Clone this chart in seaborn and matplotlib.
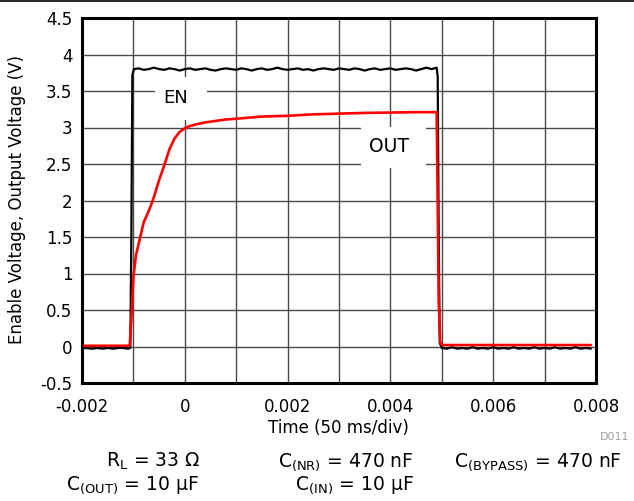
import numpy as np
import pandas as pd
import matplotlib
matplotlib.use("Agg")
import matplotlib.pyplot as plt
from matplotlib.lines import Line2D
from matplotlib.patches import Rectangle
import seaborn as sns

# ---------------- data ----------------
en_time = ([-0.00196, -0.0018, -0.0017, -0.0016, -0.0015, -0.0014, -0.0013, -0.0012, -0.0011, -0.00106,
            -0.00104, -0.00102, -0.00099]
           + [-0.0009, -0.0008, -0.0007, -0.0006, -0.0005, -0.0004, -0.0003, -0.0002, -0.0001, 0.0,
              0.0001, 0.0002, 0.0003, 0.0004, 0.0005, 0.0006, 0.0007, 0.0008, 0.0009, 0.0010,
              0.0011, 0.0012, 0.0013, 0.0014, 0.0015, 0.0016, 0.0017, 0.0018, 0.0019, 0.0020,
              0.0021, 0.0022, 0.0023, 0.0024, 0.0025, 0.0026, 0.0027, 0.0028, 0.0029, 0.0030,
              0.0031, 0.0032, 0.0033, 0.0034, 0.0035, 0.0036, 0.0037, 0.0038, 0.0039, 0.0040,
              0.0041, 0.0042, 0.0043, 0.0044, 0.0045, 0.0046, 0.0047, 0.0048]
           + [0.00490, 0.00492, 0.00494, 0.00496, 0.0050]
           + [0.0051, 0.0052, 0.0053, 0.0054, 0.0055, 0.0056, 0.0057, 0.0058, 0.0059, 0.0060,
              0.0061, 0.0062, 0.0063, 0.0064, 0.0065, 0.0066, 0.0067, 0.0068, 0.0069, 0.0070,
              0.0071, 0.0072, 0.0073, 0.0074, 0.0075, 0.0076, 0.0077, 0.0078, 0.0079])
en_volt = ([-0.02, -0.03, -0.02, -0.03, -0.02, -0.03, -0.02, -0.02, -0.03, -0.02,
            1.50, 3.72, 3.80]
           + [3.81, 3.79, 3.80, 3.82, 3.80, 3.79, 3.81, 3.80, 3.78, 3.80,
              3.81, 3.79, 3.80, 3.81, 3.79, 3.78, 3.80, 3.81, 3.80, 3.79,
              3.81, 3.80, 3.78, 3.80, 3.81, 3.79, 3.80, 3.82, 3.80, 3.79,
              3.80, 3.81, 3.79, 3.80, 3.78, 3.80, 3.81, 3.80, 3.79, 3.81,
              3.80, 3.79, 3.81, 3.80, 3.78, 3.80, 3.81, 3.79, 3.80, 3.81,
              3.79, 3.80, 3.81, 3.80, 3.78, 3.80, 3.82, 3.80]
           + [3.82, 3.70, 1.50, 0.05, -0.02]
           + [-0.03, -0.01, -0.03, -0.02, -0.03, -0.01, -0.03, -0.02, -0.03, -0.01,
              -0.03, -0.02, -0.03, -0.01, -0.03, -0.02, -0.03, -0.01, -0.03, -0.02,
              -0.03, -0.01, -0.03, -0.02, -0.03, -0.01, -0.03, -0.02, -0.03])

out_time = [-0.00196, -0.0015, -0.0011, -0.00107, -0.00103, -0.00100, -0.00095, -0.00090, -0.00085,
            -0.00080, -0.00075, -0.00070, -0.00065, -0.0006, -0.0005, -0.0004, -0.0003, -0.0002,
            -0.0001, 0.0, 0.0001, 0.0002, 0.0004, 0.0006, 0.0008, 0.0010, 0.0015, 0.0020, 0.0025,
            0.0030, 0.0035, 0.0040, 0.0045, 0.00490, 0.00492, 0.00494, 0.00497, 0.0050, 0.0060,
            0.0070, 0.0079]
out_volt = [0.01, 0.01, 0.01, 0.02, 0.50, 0.95, 1.25, 1.40, 1.55,
            1.70, 1.78, 1.86, 1.95, 2.05, 2.28, 2.48, 2.70, 2.85,
            2.94, 2.99, 3.02, 3.04, 3.07, 3.09, 3.11, 3.12, 3.15, 3.16, 3.18,
            3.19, 3.20, 3.205, 3.21, 3.21, 2.00, 0.60, 0.06, 0.02, 0.02,
            0.02, 0.02]

x_ticks = [-0.002, 0, 0.002, 0.004, 0.006, 0.008]
x_tick_labels = ["-0.002", "0", "0.002", "0.004", "0.006", "0.008"]
y_ticks = [-0.5, 0, 0.5, 1, 1.5, 2, 2.5, 3, 3.5, 4, 4.5]
y_tick_labels = ["-0.5", "0", "0.5", "1", "1.5", "2", "2.5", "3", "3.5", "4", "4.5"]
x_grid = [-0.001, 0.0, 0.001, 0.002, 0.003, 0.004, 0.005, 0.006, 0.007]

# ---------------- style ----------------
sns.set_theme(style="white")
plt.rcParams["font.family"] = ["DejaVu Sans"]
plt.rcParams["mathtext.fontset"] = "dejavusans"
plt.rcParams["text.color"] = "black"

W, H = 634, 501
fig = plt.figure(figsize=(W / 100, H / 100), dpi=100)
ax = fig.add_axes([82 / W, 1 - 383 / H, (596 - 82) / W, (383 - 18) / H])

def fy(py):
    return 1 - py / H

en_df = pd.DataFrame({"t": en_time, "v": en_volt})
out_df = pd.DataFrame({"t": out_time, "v": out_volt})

# grid
for gx in x_grid:
    ax.axvline(gx, color="#4a4a4a", lw=1.0, zorder=0)
for gy in y_ticks[1:-1]:
    ax.axhline(gy, color="#4a4a4a", lw=1.0, zorder=0)

sns.lineplot(data=en_df, x="t", y="v", ax=ax, color="black", lw=1.6, sort=False,
             estimator=None, zorder=3)
sns.lineplot(data=out_df, x="t", y="v", ax=ax, color="#ff0000", lw=1.9, sort=False,
             estimator=None, zorder=4)

ax.set_xlim(-0.002, 0.008)
ax.set_ylim(-0.5, 4.5)
ax.set_xticks(x_ticks)
ax.set_xticklabels(x_tick_labels)
ax.set_yticks(y_ticks)
ax.set_yticklabels(y_tick_labels)
ax.tick_params(axis="both", length=0, labelsize=12, colors="black")
ax.tick_params(axis="x", pad=10.5)
ax.tick_params(axis="y", pad=7)
ax.set_xlabel("")
ax.set_ylabel("")
for s in ax.spines.values():
    s.set_color("black")
    s.set_linewidth(2.2)
    s.set_visible(True)
ax.grid(False)

# label boxes (white, covering the grid) and labels
ax.add_patch(Rectangle((-0.00058, 3.103), 0.001012, 0.589, fc="white", ec="none", zorder=1))
ax.add_patch(Rectangle((0.003428, 2.445), 0.001265, 0.562, fc="white", ec="none", zorder=1))
ax.text(-0.000171, 3.404, "EN", ha="center", va="center", fontsize=13, color="black", zorder=5)
ax.text(0.003973, 2.733, "OUT", ha="center", va="center", fontsize=13.5, color="black", zorder=5)

# axis titles
fig.text(338 / W, fy(433), "Time (50 ms/div)", ha="center", va="baseline", fontsize=12, color="black")
fig.text(17 / W, fy(200), "Enable Voltage, Output Voltage (V)", ha="center", va="center",
         rotation=90, fontsize=12, color="black")
fig.text(629 / W, fy(437), "D011", ha="right", va="center", fontsize=8, color="#a0a0a0")

# condition notes
fs = 13.5
fig.text(200 / W, fy(467), r"R$_{\mathregular{L}}$ = 33 Ω", ha="right", va="baseline", fontsize=fs, color="black")
fig.text(414 / W, fy(467), r"C$_{\mathregular{(NR)}}$ = 470 nF", ha="right", va="baseline", fontsize=fs, color="black")
fig.text(622 / W, fy(467), r"C$_{\mathregular{(BYPASS)}}$ = 470 nF", ha="right", va="baseline", fontsize=fs, color="black")
fig.text(199 / W, fy(490), r"C$_{\mathregular{(OUT)}}$ = 10 μF", ha="right", va="baseline", fontsize=fs, color="black")
fig.text(414 / W, fy(490), r"C$_{\mathregular{(IN)}}$ = 10 μF", ha="right", va="baseline", fontsize=fs, color="black")

# top rule
fig.add_artist(Line2D([0, 1], [1 - 0.8 / H, 1 - 0.8 / H], transform=fig.transFigure,
                      color="black", lw=1.2))

fig.savefig("out.png", dpi=100, facecolor="white")
